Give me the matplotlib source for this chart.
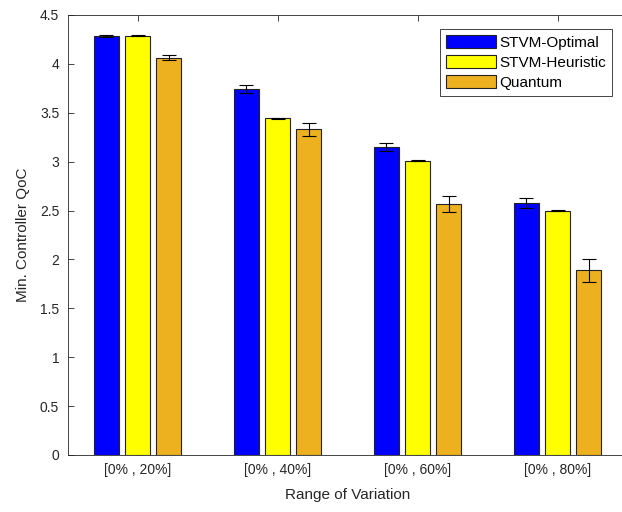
import numpy as np
import matplotlib
matplotlib.use("Agg")
import matplotlib.pyplot as plt

plt.rcParams['font.family'] = ['Liberation Sans', 'DejaVu Sans']

categories = ['[0% , 20%]', '[0% , 40%]', '[0% , 60%]', '[0% , 80%]']
series = ['STVM-Optimal', 'STVM-Heuristic', 'Quantum']
optimal = [4.29, 3.746, 3.153, 2.575]
heuristic = [4.29, 3.443, 3.007, 2.50]
quantum = [4.065, 3.33, 2.567, 1.889]
optimal_err = [0.01, 0.04, 0.04, 0.05]
heuristic_err = [0.005, 0.005, 0.005, 0.005]
quantum_err = [0.03, 0.07, 0.08, 0.12]

colors = ['#0000FF', '#FFFF00', '#EDB120']
values = [optimal, heuristic, quantum]
errors = [optimal_err, heuristic_err, quantum_err]

fig = plt.figure(figsize=(6.22, 5.12), dpi=100)
ax = fig.add_axes([67.5 / 622, 57 / 512, 560 / 622, 440 / 512])

x = np.arange(1, len(categories) + 1)
offset = 0.222
width = 0.178
for i in range(3):
    pos = x + (i - 1) * offset
    ax.bar(pos, values[i], width, color=colors[i], edgecolor='#222222',
           linewidth=0.8, label=series[i], zorder=2)
    ax.errorbar(pos, values[i], yerr=errors[i], fmt='none', ecolor='black',
                elinewidth=0.8, capsize=5, capthick=0.8, zorder=3)

ax.set_xlim(0.5, 4.5)
ax.set_ylim(0, 4.5)
ax.set_xticks(x)
ax.set_xticklabels(categories)
ax.set_yticks(np.arange(0, 4.6, 0.5))
ax.set_yticklabels(['0', '0.5', '1', '1.5', '2', '2.5', '3', '3.5', '4', '4.5'])
ax.tick_params(direction='in', length=4, width=0.6, top=True, right=True,
               labelsize=10, colors='#262626', pad=6)
for s in ax.spines.values():
    s.set_linewidth(0.6)
    s.set_color('#262626')

ax.set_xlabel('Range of Variation', fontsize=11, color='#262626', labelpad=8)
ax.set_ylabel('Min. Controller QoC', fontsize=11, color='#262626', labelpad=7)

# legend box: right edge at 612 px, top at 29 px
leg = ax.legend(loc='upper right',
                bbox_to_anchor=((612 - 67.5) / 560, (512 - 29 - 57) / 440),
                fontsize=11, handlelength=3.3, handleheight=0.9, borderpad=0.4,
                labelspacing=0.35, handletextpad=0.2, fancybox=False, framealpha=1,
                edgecolor='#262626', borderaxespad=0)
leg.get_frame().set_linewidth(0.6)

fig.savefig('out.png', dpi=100)
